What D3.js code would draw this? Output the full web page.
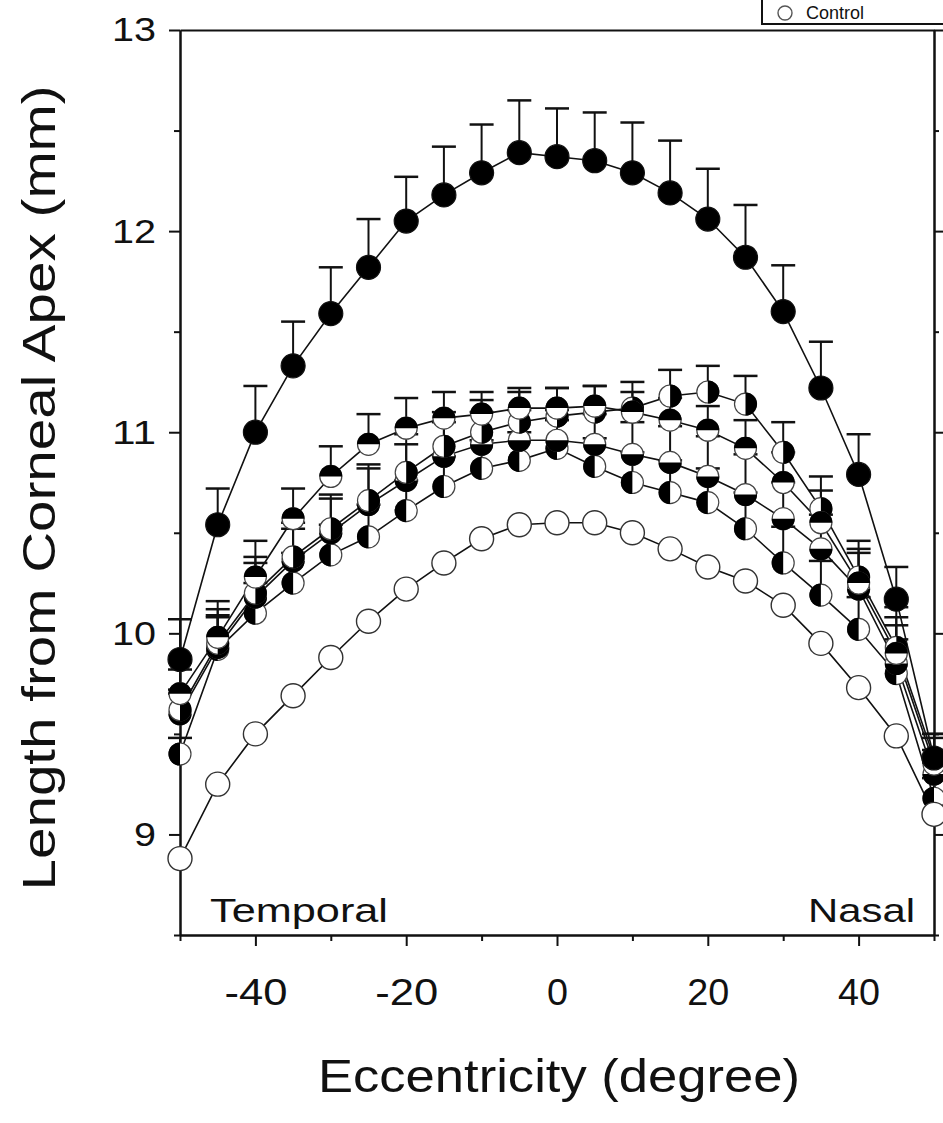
<!DOCTYPE html>
<html>
<head>
<meta charset="utf-8">
<script src="https://cdnjs.cloudflare.com/ajax/libs/d3/7.8.5/d3.min.js"></script>
<style>
  body { margin: 0; background: #fff; }
  svg { display: block; }
  text { font-family: "Liberation Sans", Arial, sans-serif; fill: #111; }
</style>
</head>
<body>
<svg id="svg"></svg>
<script>
// eccentricity in degrees (temporal negative, nasal positive)
let ecc = [-50, -45, -40, -35, -30, -25, -20, -15, -10, -5, 0, 5, 10, 15, 20, 25, 30, 35, 40, 45, 50];

// series values (mm)
let filledVals = [9.87, 10.54, 11.00, 11.33, 11.59, 11.82, 12.05, 12.18, 12.29, 12.39, 12.37, 12.35, 12.29, 12.19, 12.06, 11.87, 11.60, 11.22, 10.79, 10.17, 9.38];
let filledErr  = [0.20, 0.18, 0.23, 0.22, 0.23, 0.24, 0.22, 0.24, 0.24, 0.26, 0.24, 0.24, 0.25, 0.26, 0.25, 0.26, 0.23, 0.23, 0.20, 0.16, 0.10];

let topVals = [9.70, 9.98, 10.28, 10.57, 10.78, 10.94, 11.02, 11.07, 11.09, 11.12, 11.12, 11.13, 11.10, 11.06, 11.01, 10.92, 10.75, 10.55, 10.25, 9.90, 9.35];
let topErr  = [0.12, 0.18, 0.18, 0.15, 0.15, 0.15, 0.15, 0.13, 0.11, 0.10, 0.10, 0.10, 0.10, 0.11, 0.12, 0.14, 0.15, 0.16, 0.17, 0.18, 0.15];

let rightVals = [9.62, 9.95, 10.20, 10.38, 10.52, 10.66, 10.80, 10.93, 11.00, 11.05, 11.08, 11.10, 11.12, 11.18, 11.20, 11.14, 10.90, 10.62, 10.28, 9.93, 9.38];
let rightErr  = [0.10, 0.17, 0.18, 0.17, 0.17, 0.18, 0.19, 0.17, 0.16, 0.15, 0.14, 0.13, 0.13, 0.13, 0.13, 0.14, 0.15, 0.16, 0.18, 0.20, 0.12];

let bottomVals = [9.60, 9.93, 10.18, 10.36, 10.50, 10.64, 10.76, 10.88, 10.94, 10.96, 10.96, 10.94, 10.89, 10.85, 10.78, 10.69, 10.57, 10.42, 10.22, 9.85, 9.30];
let bottomErr  = [0.10, 0.16, 0.17, 0.16, 0.17, 0.18, 0.18, 0.17, 0.16, 0.15, 0.15, 0.15, 0.16, 0.18, 0.20, 0.20, 0.18, 0.17, 0.18, 0.19, 0.12];

let leftVals = [9.40, 9.92, 10.10, 10.25, 10.39, 10.48, 10.61, 10.73, 10.82, 10.86, 10.92, 10.83, 10.75, 10.70, 10.65, 10.52, 10.35, 10.19, 10.02, 9.80, 9.18];
let leftErr  = [0.08, 0.16, 0.15, 0.15, 0.15, 0.16, 0.15, 0.15, 0.14, 0.14, 0.14, 0.14, 0.15, 0.16, 0.17, 0.18, 0.18, 0.17, 0.16, 0.17, 0.10];

let controlVals = [8.88, 9.25, 9.50, 9.69, 9.88, 10.06, 10.22, 10.35, 10.47, 10.54, 10.55, 10.55, 10.50, 10.42, 10.33, 10.26, 10.14, 9.95, 9.73, 9.49, 9.10];

let yTicks = [9, 10, 11, 12, 13];
let yMinor = [8.5, 9.5, 10.5, 11.5, 12.5];
let xTicks = [-40, -20, 0, 20, 40];
let xMinor = [-50, -30, -10, 10, 30, 50];

let series = [
  { name: "left",    vals: leftVals,    err: leftErr },
  { name: "bottom",  vals: bottomVals,  err: bottomErr },
  { name: "right",   vals: rightVals,   err: rightErr },
  { name: "top",     vals: topVals,     err: topErr },
  { name: "control", vals: controlVals, err: null },
  { name: "full",    vals: filledVals,  err: filledErr }
];

let svg = d3.select("#svg").attr("width", 943).attr("height", 1123);

let x = d3.scaleLinear().domain([-50, 50]).range([180, 934]);
let y = d3.scaleLinear().domain([8.5, 13]).range([935, 30]);

let r = 12;
let plain = function(d) { return String(d); };

// axes frame
let leftAxis = d3.axisLeft(y).tickValues(yTicks).tickSize(11).tickSizeOuter(0).tickFormat(plain);
let gl = svg.append("g").attr("transform", "translate(" + x(-50) + ",0)").call(leftAxis);
gl.selectAll("text").attr("font-size", 34).attr("x", -24)
  .attr("textLength", function(d) { return String(d).length * 22; }).attr("lengthAdjust", "spacingAndGlyphs");
svg.append("g").attr("transform", "translate(" + x(-50) + ",0)")
  .call(d3.axisLeft(y).tickValues(yMinor).tickSize(6).tickSizeOuter(0).tickFormat(""));

svg.append("g").attr("transform", "translate(" + x(50) + ",0)")
  .call(d3.axisRight(y).tickValues(yTicks).tickSize(10).tickSizeOuter(0).tickFormat(""));
svg.append("g").attr("transform", "translate(" + x(50) + ",0)")
  .call(d3.axisRight(y).tickValues(yMinor).tickSize(5).tickSizeOuter(0).tickFormat(""));

let bottomAxis = d3.axisBottom(x).tickValues(xTicks).tickSize(11).tickSizeOuter(0).tickFormat(plain);
let gb = svg.append("g").attr("transform", "translate(0," + y(8.5) + ")").call(bottomAxis);
gb.selectAll("text").attr("font-size", 37).attr("y", 44)
  .attr("textLength", function(d) { return String(d).length * 21; }).attr("lengthAdjust", "spacingAndGlyphs");
svg.append("g").attr("transform", "translate(0," + y(8.5) + ")")
  .call(d3.axisBottom(x).tickValues(xMinor).tickSize(6).tickSizeOuter(0).tickFormat(""));

svg.append("g").attr("transform", "translate(0," + y(13) + ")")
  .call(d3.axisTop(x).tickValues([]).tickSizeOuter(0));

svg.selectAll(".domain").attr("stroke", "#111").attr("stroke-width", 2);
svg.selectAll(".tick line").attr("stroke", "#111").attr("stroke-width", 2);
svg.selectAll(".tick text").attr("fill", "#111").style("font-family", "'Liberation Sans', Arial, sans-serif");

// lines
let line = d3.line()
  .x(function(d, i) { return x(ecc[i]); })
  .y(function(d) { return y(d); });

series.forEach(function(s) {
  svg.append("path")
    .datum(s.vals)
    .attr("fill", "none")
    .attr("stroke", "#111")
    .attr("stroke-width", 1.6)
    .attr("d", line);
});

// error bars (upper only)
series.forEach(function(s) {
  if (!s.err) return;
  let g = svg.append("g").attr("stroke", "#111");
  s.vals.forEach(function(v, i) {
    let cx = x(ecc[i]), top = y(v + s.err[i]);
    g.append("line").attr("x1", cx).attr("x2", cx).attr("y1", y(v)).attr("y2", top).attr("stroke-width", 2);
    g.append("line").attr("x1", cx - 12).attr("x2", cx + 12).attr("y1", top).attr("y2", top).attr("stroke-width", 2.5);
  });
});

// markers
let halfAngles = {
  left:   [Math.PI, 2 * Math.PI],
  right:  [0, Math.PI],
  top:    [-Math.PI / 2, Math.PI / 2],
  bottom: [Math.PI / 2, 3 * Math.PI / 2]
};

series.forEach(function(s) {
  let g = svg.append("g");
  s.vals.forEach(function(v, i) {
    let m = g.append("g").attr("transform", "translate(" + x(ecc[i]) + "," + y(v) + ")");
    if (s.name === "full") {
      m.append("circle").attr("r", r).attr("fill", "#000").attr("stroke", "#111").attr("stroke-width", 1.2);
    } else if (s.name === "control") {
      m.append("circle").attr("r", r).attr("fill", "#fff").attr("stroke", "#333").attr("stroke-width", 1.4);
    } else {
      let a = halfAngles[s.name];
      m.append("circle").attr("r", r - 1).attr("fill", "#fff").attr("stroke", "#444").attr("stroke-width", 1.2);
      m.append("path")
        .attr("d", d3.arc().innerRadius(0).outerRadius(r - 0.5).startAngle(a[0]).endAngle(a[1])())
        .attr("fill", "#000");
    }
  });
});

// side labels
svg.append("text").attr("x", 210).attr("y", 922).attr("font-size", 34)
  .attr("textLength", 178).attr("lengthAdjust", "spacingAndGlyphs").text("Temporal");
svg.append("text").attr("x", 808).attr("y", 922).attr("font-size", 34)
  .attr("textLength", 107).attr("lengthAdjust", "spacingAndGlyphs").text("Nasal");

// axis titles
svg.append("text").attr("x", 559).attr("y", 1092).attr("font-size", 46).attr("text-anchor", "middle")
  .attr("textLength", 482).attr("lengthAdjust", "spacingAndGlyphs").text("Eccentricity (degree)");
svg.append("text").attr("transform", "translate(55,488) rotate(-90)").attr("font-size", 46).attr("text-anchor", "middle")
  .attr("textLength", 805).attr("lengthAdjust", "spacingAndGlyphs").text("Length from Corneal Apex (mm)");

// legend (top right, mostly above the picture)
let legend = svg.append("g");
legend.append("rect").attr("x", 762).attr("y", -70).attr("width", 260).attr("height", 94)
  .attr("fill", "#fff").attr("stroke", "#111").attr("stroke-width", 2);
legend.append("circle").attr("cx", 785).attr("cy", 13).attr("r", 7).attr("fill", "#fff").attr("stroke", "#555").attr("stroke-width", 1.4);
legend.append("text").attr("x", 806).attr("y", 19).attr("font-size", 18).text("Control");
</script>
</body>
</html>
